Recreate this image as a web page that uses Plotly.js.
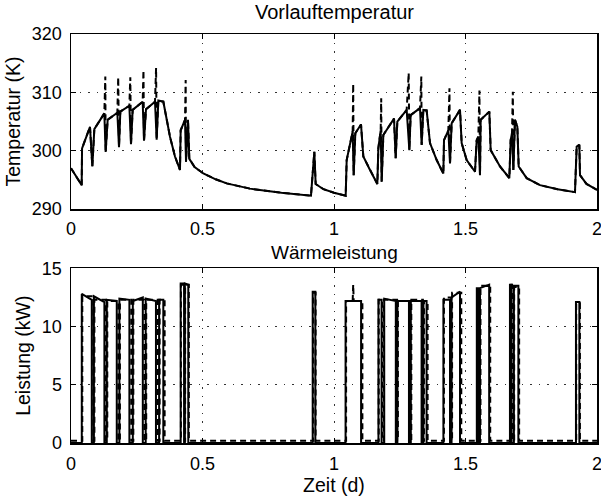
<!DOCTYPE html>
<html>
<head>
<meta charset="utf-8">
<script src="https://cdn.plot.ly/plotly-3.0.1.min.js"></script>
<style>html,body{margin:0;padding:0;background:#fff;}#chart{width:601px;height:497px;}</style>
</head>
<body>
<div id="chart"></div>
<script>
// ---- Vorlauftemperatur (solid) ----
const tempX = [0.000, 0.0406, 0.0420, 0.0722, 0.0811, 0.0887, 0.1267, 0.1318, 0.1394, 0.1762, 0.1825, 0.1876, 0.2218, 0.2281, 0.2345, 0.2725, 0.2776, 0.2852, 0.3194, 0.3257, 0.3321, 0.3511, 0.3764, 0.3954, 0.4144, 0.4170, 0.4335, 0.4373, 0.4449, 0.4499, 0.4700, 0.5032, 0.5500, 0.5919, 0.6800, 0.8000, 0.9125, 0.9252, 0.9303, 0.9600, 1.0000, 1.0444, 1.0482, 1.0646, 1.0710, 1.0748, 1.0811, 1.1027, 1.1115, 1.1369, 1.1648, 1.1686, 1.1775, 1.1813, 1.1876, 1.2282, 1.2345, 1.2408, 1.2763, 1.2865, 1.2915, 1.3270, 1.3333, 1.3397, 1.3523, 1.3650, 1.3904, 1.4157, 1.4183, 1.4347, 1.4411, 1.4474, 1.4791, 1.4854, 1.5044, 1.5361, 1.5425, 1.5488, 1.5551, 1.5577, 1.5906, 1.5957, 1.6312, 1.6667, 1.6717, 1.6768, 1.6819, 1.6882, 1.6971, 1.7022, 1.7326, 1.7833, 1.8500, 1.9163, 1.9227, 1.9328, 1.9354, 1.9600, 2.0000];
const tempY = [297.0, 294.1, 300.4, 304.1, 297.3, 303.7, 306.4, 299.8, 305.3, 306.5, 300.6, 306.7, 307.7, 301.1, 307.0, 308.4, 301.7, 307.1, 308.4, 301.9, 308.6, 308.4, 302.4, 299.0, 296.7, 303.5, 305.3, 298.1, 305.3, 298.6, 297.2, 296.1, 295.1, 294.4, 293.5, 292.8, 292.3, 299.8, 294.3, 293.4, 292.8, 292.3, 298.4, 302.1, 303.3, 295.8, 303.0, 304.5, 299.0, 296.7, 294.3, 300.4, 303.5, 294.7, 302.7, 305.5, 298.7, 305.0, 307.0, 300.1, 306.1, 307.3, 301.0, 307.0, 306.9, 301.3, 298.4, 296.1, 301.8, 303.5, 297.8, 304.7, 307.0, 301.3, 298.4, 296.4, 301.8, 302.4, 295.8, 305.3, 306.7, 300.1, 297.3, 295.3, 301.8, 303.0, 296.7, 305.3, 304.1, 297.3, 295.3, 294.1, 293.4, 292.9, 300.7, 301.0, 295.8, 294.3, 293.3];
// ---- dashed temperature peaks (where dashed exceeds solid) ----
const spikeX = [0.1305, 0.1795, 0.2255, 0.2755, 0.3235, 0.4360, 1.0730, 1.1795, 1.2840, 1.3320, 1.4390, 1.5530, 1.6800];
const spikeY = [312.7, 312.6, 312.6, 313.8, 314.2, 312.1, 311.5, 309.0, 313.3, 312.7, 310.7, 310.3, 310.1];

// ---- Wärmeleistung (solid) pulses ----
const pStart = [0.041, 0.087, 0.136, 0.184, 0.235, 0.284, 0.335, 0.417, 0.433, 0.919, 1.044, 1.169, 1.191, 1.241, 1.292, 1.340, 1.416, 1.447, 1.543, 1.555, 1.669, 1.684, 1.920];
const pEnd   = [0.079, 0.127, 0.174, 0.222, 0.273, 0.323, 0.351, 0.430, 0.446, 0.929, 1.103, 1.181, 1.235, 1.285, 1.333, 1.352, 1.441, 1.479, 1.550, 1.590, 1.675, 1.701, 1.933];
const pTopA  = [12.8, 12.6, 12.3, 12.4, 12.2, 12.4, 12.3, 13.7, 13.7, 13.0, 12.2, 12.3, 12.4, 12.2, 12.2, 12.2, 12.3, 12.5, 13.3, 13.3, 13.6, 13.5, 12.1];
const pTopB  = [12.3, 12.1, 12.2, 12.3, 12.5, 12.2, 12.3, 13.7, 13.6, 13.0, 12.2, 12.3, 12.2, 12.2, 12.2, 12.2, 12.3, 13.0, 13.3, 13.6, 13.6, 13.5, 12.1];
// ---- Wärmeleistung (dashed) pulses ----
const dStart = [0.043, 0.089, 0.138, 0.186, 0.237, 0.286, 0.337, 0.418, 0.434, 0.920, 1.046, 1.170, 1.190, 1.243, 1.294, 1.342, 1.418, 1.449, 1.544, 1.557, 1.670, 1.685, 1.921];
const dEnd   = [0.085, 0.133, 0.180, 0.229, 0.279, 0.329, 0.356, 0.432, 0.448, 0.930, 1.108, 1.183, 1.240, 1.290, 1.338, 1.356, 1.446, 1.484, 1.552, 1.594, 1.677, 1.704, 1.935];
const dTop   = [12.6, 12.3, 12.2, 12.3, 12.3, 12.3, 12.3, 13.6, 13.6, 12.9, 12.2, 12.3, 12.3, 12.2, 12.3, 12.2, 12.5, 12.9, 13.2, 13.5, 13.6, 13.4, 12.0];
const dIdle = 0.2;
// short dashed power peak above the pulse near day 1.07
const dPeakX = [1.071, 1.073, 1.075];
const dPeakY = [12.2, 13.6, 12.2];

// build dashed temperature from solid + peaks
const dT = tempX.map((x, i) => [x, tempY[i]]).concat(spikeX.map((x, i) => [x, spikeY[i]]));
dT.sort((a, b) => a[0] - b[0]);

function steps(s, e, a, b, base) {
  const X = [0], Y = [base];
  for (let i = 0; i < s.length; i++) {
    X.push(s[i], s[i], e[i], e[i]);
    Y.push(base, a[i], b[i], base);
  }
  X.push(2); Y.push(base);
  return {X, Y};
}
const ps = steps(pStart, pEnd, pTopA, pTopB, 0);
const pd = steps(dStart, dEnd, dTop, dTop, dIdle);

const lineSolid = {color: '#000', width: 2};
const lineDash = {color: '#000', width: 2, dash: '6px,4px'};

const traces = [
  {x: dT.map(p => p[0]), y: dT.map(p => p[1]), mode: 'lines', line: lineDash, xaxis: 'x', yaxis: 'y', hoverinfo: 'skip'},
  {x: tempX, y: tempY, mode: 'lines', line: lineSolid, xaxis: 'x', yaxis: 'y', hoverinfo: 'skip'},
  {x: pd.X, y: pd.Y, mode: 'lines', line: lineDash, xaxis: 'x2', yaxis: 'y2', hoverinfo: 'skip'},
  {x: dPeakX, y: dPeakY, mode: 'lines', line: lineDash, xaxis: 'x2', yaxis: 'y2', hoverinfo: 'skip'},
  {x: ps.X, y: ps.Y, mode: 'lines', line: lineSolid, xaxis: 'x2', yaxis: 'y2', hoverinfo: 'skip'}
];

const fam = 'Liberation Sans, Arial, Helvetica, sans-serif';
const font = {family: fam, size: 18, color: '#000'};
const titleFont = {family: fam, size: 19.5, color: '#000'};
const headFont = {family: fam, size: 20, color: '#000'};
const head2Font = {family: fam, size: 19, color: '#000'};
const xTicks = [0, 0.5, 1, 1.5, 2];
const xTickText = ['0', '0.5', '1', '1.5', '2'];
const axBase = {
  showline: true, linecolor: '#000', linewidth: 1.5, mirror: 'ticks',
  ticks: 'inside', ticklen: 5, tickcolor: '#000', tickwidth: 1,
  showgrid: true, gridcolor: '#333', gridwidth: 1, griddash: '1.5px,7px',
  zeroline: false, tickfont: font, fixedrange: true, ticklabeloverflow: 'allow'
};
const layout = {
  width: 601, height: 497,
  margin: {l: 71, r: 4, t: 34, b: 54},
  paper_bgcolor: '#fff', plot_bgcolor: '#fff',
  showlegend: false, font: font,
  xaxis: Object.assign({}, axBase, {domain: [0, 1], anchor: 'y', range: [0, 2], tickvals: xTicks, ticktext: xTickText, ticklabelstandoff: 3}),
  yaxis: Object.assign({}, axBase, {domain: [0.572, 1], anchor: 'x', range: [290, 320], tickvals: [290, 300, 310, 320], ticklabelstandoff: 4,
    title: {text: 'Temperatur (K)', font: titleFont, standoff: 6}}),
  xaxis2: Object.assign({}, axBase, {domain: [0, 1], anchor: 'y2', range: [0, 2], tickvals: xTicks, ticktext: xTickText, ticklabelstandoff: 4,
    title: {text: 'Zeit (d)', font: titleFont, standoff: 2}}),
  yaxis2: Object.assign({}, axBase, {domain: [0, 0.427], anchor: 'x2', range: [0, 15], tickvals: [0, 5, 10, 15], ticklabelstandoff: 4,
    title: {text: 'Leistung (kW)', font: titleFont, standoff: 6}}),
  annotations: [
    {text: 'Vorlauftemperatur', xref: 'paper', yref: 'paper', x: 0.5, y: 1, xanchor: 'center', yanchor: 'bottom', yshift: 9, showarrow: false, font: headFont},
    {text: 'Wärmeleistung', xref: 'paper', yref: 'paper', x: 0.5, y: 0.427, xanchor: 'center', yanchor: 'bottom', yshift: 4, borderpad: 0, showarrow: false, font: head2Font}
  ]
};
Plotly.newPlot('chart', traces, layout, {staticPlot: true, displayModeBar: false});
</script>
</body>
</html>
